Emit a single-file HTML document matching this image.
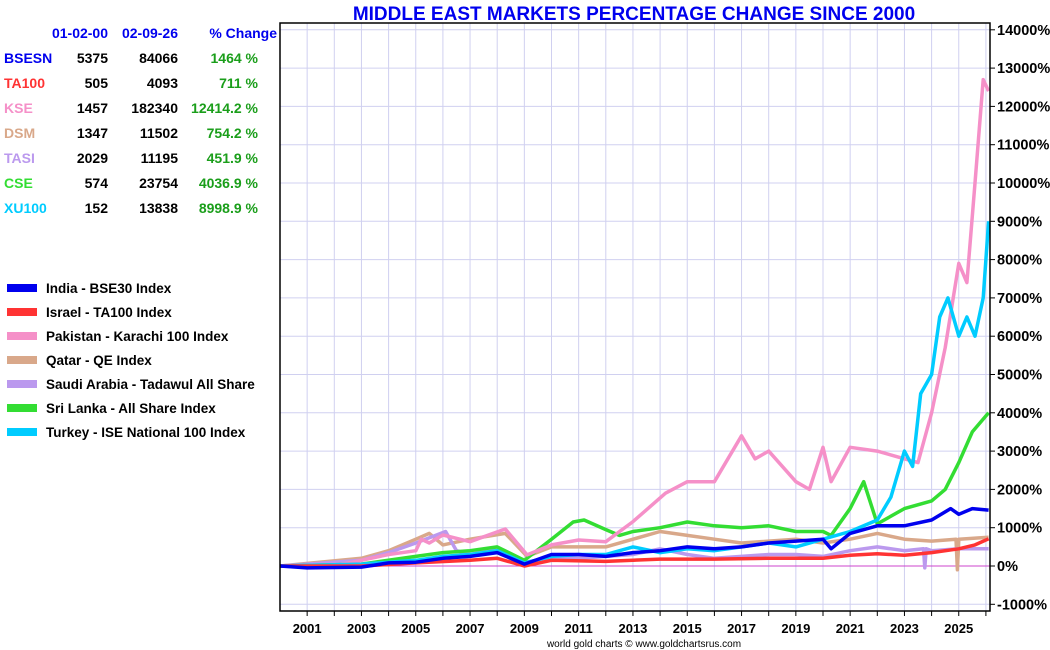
<!DOCTYPE html>
<html><head><meta charset="utf-8"><style>
body{margin:0;background:#fff;font-family:"Liberation Sans",sans-serif;}
#wrap{position:relative;width:1050px;height:650px;overflow:hidden;}
svg text{font-family:"Liberation Sans",sans-serif;font-weight:bold;}
</style></head><body>
<div id="wrap">
<svg id="chart" width="1050" height="650"></svg>
</div>
<script>
const seriesNames=["Qatar - QE Index","Saudi Arabia - Tadawul All Share","Sri Lanka - All Share Index","Pakistan - Karachi 100 Index","Turkey - ISE National 100 Index","Israel - TA100 Index","India - BSE30 Index"];
const seriesColors=["#d9a88a","#bb99ee","#33dd33","#f590c8","#00ccff","#ff3333","#0000ee"];
const qatarX=[2000,2003,2004,2005,2005.5,2006,2007,2008.3,2009.1,2010,2011,2012,2013,2014,2015,2016,2017,2018,2019,2020,2021,2022,2023,2024,2024.9,2024.95,2025,2026.1];
const qatarY=[0,200,400,700,850,550,700,850,250,500,500,500,700,900,800,700,600,650,700,600,700,850,700,650,700,-100,700,750];
const saudiX=[2000,2003,2004,2005,2006.1,2006.5,2007,2008,2009,2010,2011,2012,2013,2014,2015,2016,2017,2018,2019,2020,2021,2022,2023,2023.7,2023.75,2023.8,2024,2025,2026.1];
const saudiY=[0,150,350,600,900,400,300,450,100,200,200,250,300,450,300,200,250,300,300,250,400,500,400,450,-50,450,400,450,450];
const lankaX=[2000,2003,2005,2006,2007,2008,2009,2010,2010.8,2011.2,2012,2012.5,2013,2014,2015,2016,2017,2018,2019,2020,2020.3,2021,2021.5,2022,2023,2024,2024.5,2025,2025.5,2026.1];
const lankaY=[0,50,250,350,400,500,150,700,1150,1200,950,800,900,1000,1150,1050,1000,1050,900,900,800,1500,2200,1100,1500,1700,2000,2700,3500,4000];
const pakX=[2000,2002,2003,2004,2005,2005.2,2005.5,2006,2007,2008.3,2009.1,2010,2011,2012,2013,2014.2,2015,2016,2017,2017.5,2018,2019,2019.5,2020,2020.3,2021,2022,2023,2023.5,2024,2024.5,2025,2025.3,2025.6,2025.9,2026.1];
const pakY=[0,0,150,300,400,700,600,810,635,965,290,550,680,635,1160,1900,2200,2200,3400,2800,3000,2200,2000,3100,2200,3100,3000,2800,2700,4000,5700,7900,7400,10000,12700,12400];
const turkX=[2000,2003,2005,2006,2007,2008,2009,2010,2011,2012,2013,2014,2015,2016,2017,2018,2019,2020,2021,2022,2022.5,2023,2023.3,2023.6,2024,2024.3,2024.6,2025,2025.3,2025.6,2025.9,2026.1];
const turkY=[0,50,150,250,300,400,80,250,300,300,500,350,450,400,500,600,500,700,900,1200,1800,3000,2600,4500,5000,6500,7000,6000,6500,6000,7000,9000];
const israelX=[2000,2003,2005,2007,2008,2009,2010,2012,2014,2016,2018,2020,2021,2022,2023,2024,2025,2025.6,2026.1];
const israelY=[0,0,80,150,200,0,150,120,180,180,200,200,280,320,280,350,450,550,711];
const indiaX=[2000,2001,2003,2004,2005,2006,2007,2008,2009,2010,2011,2012,2013,2014,2015,2016,2017,2018,2019,2020,2020.3,2021,2022,2023,2024,2024.7,2025,2025.5,2026.1];
const indiaY=[0,-50,-30,80,100,200,250,350,50,300,300,250,350,400,500,450,500,600,650,700,450,850,1050,1050,1200,1500,1350,1500,1460];
const yTicks=[14000,13000,12000,11000,10000,9000,8000,7000,6000,5000,4000,3000,2000,1000,0,-1000];
const xYears=[2001,2003,2005,2007,2009,2011,2013,2015,2017,2019,2021,2023,2025];
const tblNames=["BSESN","TA100","KSE","DSM","TASI","CSE","XU100"];
const tblColors=["#0000ee","#ff3333","#f590c8","#d9a88a","#bb99ee","#33dd33","#00ccff"];
const tblStart=["5375","505","1457","1347","2029","574","152"];
const tblEnd=["84066","4093","182340","11502","11195","23754","13838"];
const tblPct=["1464 %","711 %","12414.2 %","754.2 %","451.9 %","4036.9 %","8998.9 %"];
const legNames=["India - BSE30 Index","Israel - TA100 Index","Pakistan - Karachi 100 Index","Qatar - QE Index","Saudi Arabia - Tadawul All Share","Sri Lanka - All Share Index","Turkey - ISE National 100 Index"];
const legColors=["#0000ee","#ff3333","#f590c8","#d9a88a","#bb99ee","#33dd33","#00ccff"];

const L=280,R=990,T=23,B=611;
const xS=y=>L+(y-2000)*27.15;
const yS=v=>566-v*0.0383;
const svg=document.getElementById('chart');
const NS="http://www.w3.org/2000/svg";
function mk(t,a,txt){const e=document.createElementNS(NS,t);for(const k in a)e.setAttribute(k,a[k]);if(txt!==undefined)e.textContent=txt;svg.appendChild(e);return e;}
for(let y=2001;y<=2026;y++){const g=mk('line',{x1:xS(y),x2:xS(y),y1:T,y2:B,stroke:'#d0d0f0','stroke-width':1});


const tk=mk('line',{x1:xS(y),x2:xS(y),y1:B,y2:B+5,stroke:'#000'});

}
yTicks.forEach(v=>{const g=mk('line',{x1:L,x2:R,y1:yS(v),y2:yS(v),stroke:v===0?'#cc44cc':'#d0d0f0','stroke-width':1});


const tk=mk('line',{x1:R,x2:R+5,y1:yS(v),y2:yS(v),stroke:'#000'});


const t=mk('text',{x:R+7,y:yS(v)+5,'font-size':14.5,fill:'#000'},v+'%');

});
xYears.forEach(y=>{const t=mk('text',{x:xS(y),y:B+22,'font-size':13,'text-anchor':'middle',fill:'#000'},String(y));

});
const allX=[qatarX,saudiX,lankaX,pakX,turkX,israelX,indiaX];
const allY=[qatarY,saudiY,lankaY,pakY,turkY,israelY,indiaY];
allX.forEach((xs,i)=>{const pts=xs.map((x,j)=>xS(x).toFixed(1)+','+yS(allY[i][j]).toFixed(1)).join(' ');
const p=mk('polyline',{points:pts,fill:'none',stroke:seriesColors[i],'stroke-width':3.5,'stroke-linejoin':'round'});

});
const fr=mk('rect',{x:L,y:T,width:R-L,height:B-T,fill:'none',stroke:'#000','stroke-width':1.5});


const ti=mk('text',{x:634,y:20,'font-size':19,'text-anchor':'middle',fill:'#0000ee'},'MIDDLE EAST MARKETS PERCENTAGE CHANGE SINCE 2000');


const ft=mk('text',{x:644,y:647,'font-size':10,'text-anchor':'middle',fill:'#000'},'world gold charts © www.goldchartsrus.com');


ft.style.fontWeight='normal';
[["01-02-00",108],["02-09-26",178],["% Change",277]].forEach(h=>{const t=mk('text',{x:h[1],y:38,'font-size':14,'text-anchor':'end',fill:'#0000ee'},h[0]);

});
tblNames.forEach((n,i)=>{const y=63+i*25;
const a=mk('text',{x:4,y:y,'font-size':14,fill:tblColors[i]},n);


const b=mk('text',{x:108,y:y,'font-size':14,'text-anchor':'end',fill:'#000'},tblStart[i]);


const c=mk('text',{x:178,y:y,'font-size':14,'text-anchor':'end',fill:'#000'},tblEnd[i]);


const d=mk('text',{x:258,y:y,'font-size':14,'text-anchor':'end',fill:'#1a9e1a'},tblPct[i]);

});
legNames.forEach((n,i)=>{const y=288+i*24;
const r=mk('rect',{x:7,y:y-4,width:30,height:8,fill:legColors[i]});


const t=mk('text',{x:46,y:y+5,'font-size':13.5,fill:'#000'},n);

});
</script>
</body></html>
